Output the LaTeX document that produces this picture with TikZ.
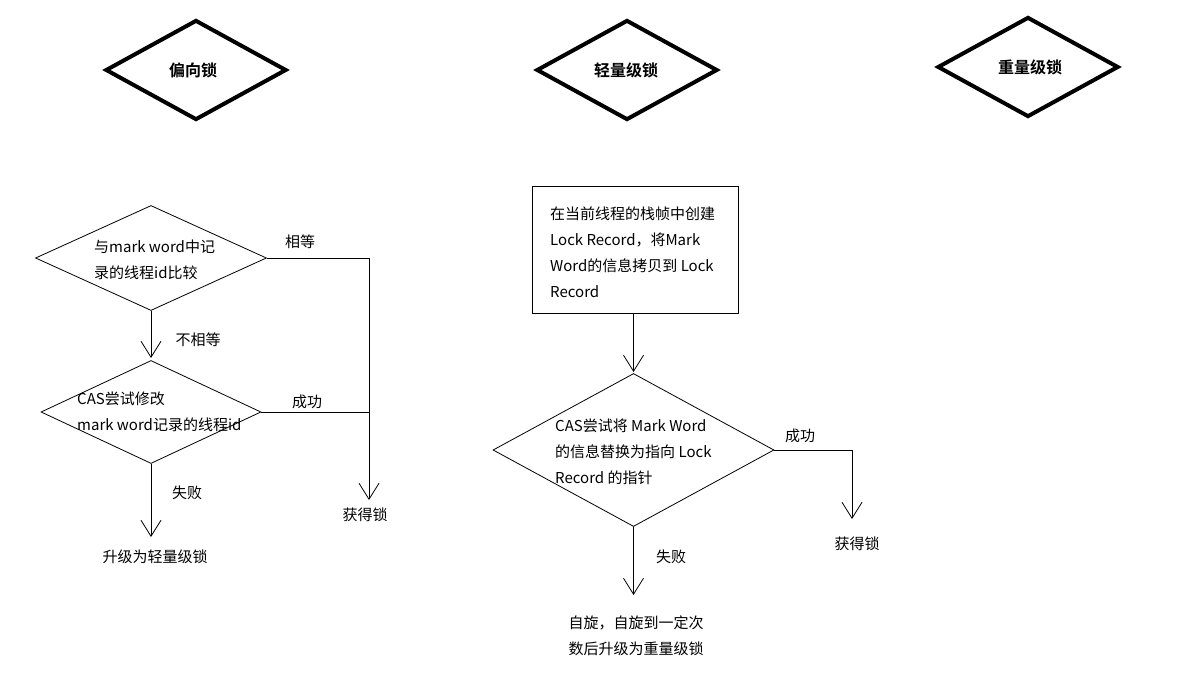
\documentclass[tikz,border=0pt]{standalone}
\usepackage{fontspec}
\newfontfamily\cjk{Noto Sans CJK SC}[BoldFont={Noto Sans CJK SC Bold}]
\usetikzlibrary{shapes.geometric,arrows.meta}
\begin{document}
\begin{tikzpicture}[x=1pt,y=-1pt,
  title/.style={diamond,draw,line width=4pt,minimum width=181pt,minimum height=100pt,inner sep=0pt},
  titletxt/.style={font=\cjk\bfseries\fontsize{16}{20}\selectfont,inner sep=0pt},
  dec/.style={diamond,draw,line width=0.8pt,inner sep=0pt},
  txt/.style={font=\cjk\fontsize{15}{26}\selectfont,inner sep=0pt,align=left},
  lbl/.style={font=\cjk\fontsize{15}{26}\selectfont,inner sep=0pt},
  conn/.style={line width=0.8pt},
  arr/.style={conn,-{Straight Barb[length=16pt,width=20pt]}}]
\useasboundingbox (0,0) rectangle (1186,687);
\fill[white] (0,0) rectangle (1186,687);

% titles
\node[title] (h1) at (196,70) {};
\node[titletxt] (h1t) at (193,70) {偏向锁};
\node[title] (h2) at (627,70) {};
\node[titletxt] (h2t) at (626,70) {轻量级锁};
\node[title] (h3) at (1028,67) {};
\node[titletxt] (h3t) at (1030,67) {重量级锁};

% left column
\node[dec,minimum width=231pt,minimum height=105pt] (d1) at (151,258) {};
\node[txt,anchor=west] (d1t) at (94,260) {与mark word中记\\录的线程id比较};
\node[dec,minimum width=220pt,minimum height=103pt] (d2) at (151,412) {};
\node[txt,anchor=west] (d2t) at (77,412) {CAS尝试修改\\mark word记录的线程id};

\node[lbl] (eq) at (300,242) {相等};
\node[lbl] (neq) at (198,340) {不相等};
\node[lbl] (succ1) at (307,402) {成功};
\node[lbl] (fail1) at (187,493) {失败};
\node[lbl] (up1) at (155,557) {升级为轻量级锁};
\node[lbl] (get1) at (365,515) {获得锁};

\coordinate (j1) at (369,258);
\coordinate (j2) at (369,412);
\coordinate (tipget1) at (369,500);
\coordinate (tipd2) at (151,358);
\coordinate (tipup1) at (151,537);

\draw[arr] (d1.south) -- (tipd2);
\draw[conn] (d1.east) -- (j1);
\draw[arr] (j1) -- (tipget1);
\draw[conn] (d2.east) -- (j2);
\draw[arr] (d2.south) -- (tipup1);

% middle column
\node[draw,line width=0.8pt,minimum width=206pt,minimum height=127pt,inner sep=0pt] (box) at (635,249.5) {};
\node[txt,anchor=west] (boxt) at (550,252) {在当前线程的栈帧中创建\\Lock Record，将Mark\\Word的信息拷贝到 Lock\\Record};
\node[dec,minimum width=281pt,minimum height=153pt] (d3) at (633.5,450) {};
\node[txt,anchor=west] (d3t) at (555,452) {CAS尝试将 Mark Word\\的信息替换为指向 Lock\\Record 的指针};

\node[lbl] (succ2) at (800,436) {成功};
\node[lbl] (get2) at (857,544) {获得锁};
\node[lbl] (fail2) at (671,557) {失败};
\node[lbl,align=center] (spin) at (636,635.5) {自旋，自旋到一定次\\数后升级为重量级锁};

\coordinate (tipd3) at (633.5,372);
\coordinate (j3) at (852,450);
\coordinate (tipget2) at (852,519);
\coordinate (tipspin) at (633.5,595);

\draw[arr] (box.south -| tipd3) -- (tipd3);
\draw[conn] (d3.east) -- (j3);
\draw[arr] (j3) -- (tipget2);
\draw[arr] (d3.south) -- (tipspin);
\end{tikzpicture}
\end{document}
